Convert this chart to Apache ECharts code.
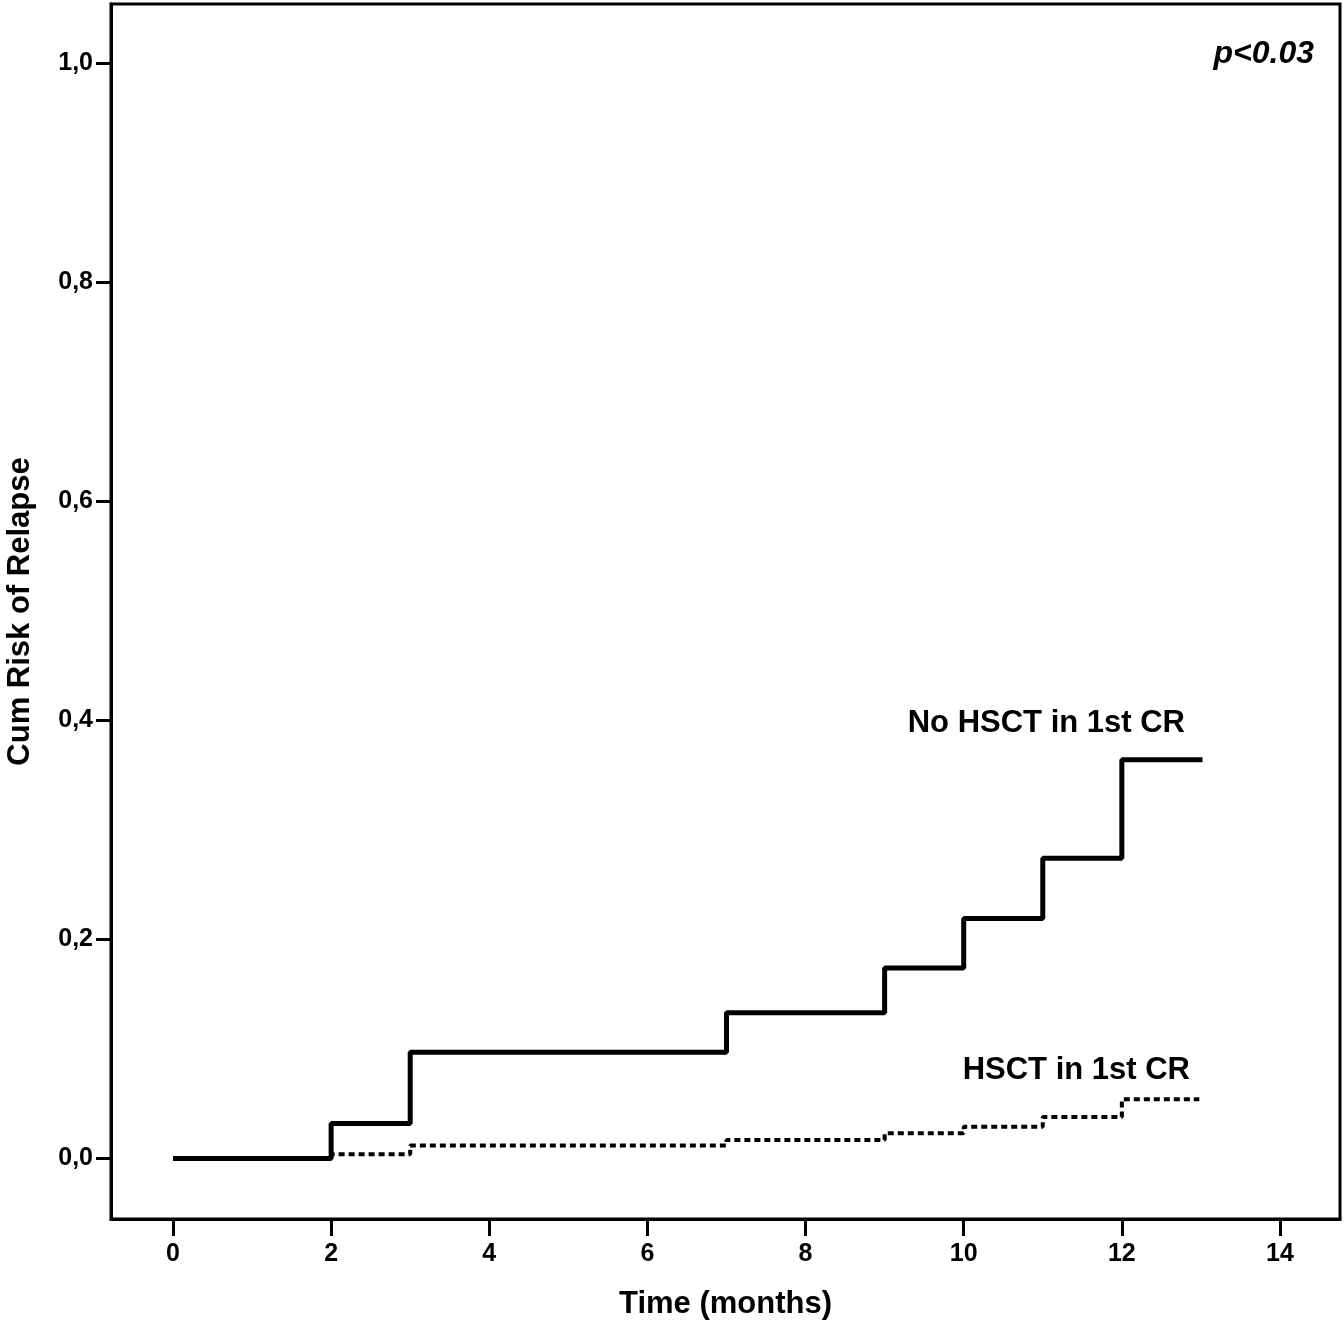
<!DOCTYPE html>
<html>
<head>
<meta charset="utf-8">
<script src="https://cdn.jsdelivr.net/npm/echarts@6/dist/echarts.min.js"></script>
<style>
html,body{margin:0;padding:0;background:#fff;}
#chart{width:1344px;height:1325px;}
</style>
</head>
<body>
<div id="chart"></div>
<script>
// Data
const timesNoHSCT = [0, 2, 3, 7, 9, 10, 11, 12, 13.02];
const riskNoHSCT  = [0, 0.032, 0.097, 0.133, 0.174, 0.219, 0.274, 0.364, 0.364];
const timesHSCT   = [0, 2, 3, 7, 9, 10, 11, 12, 12.98];
const riskHSCT    = [0, 0.004, 0.012, 0.017, 0.023, 0.029, 0.038, 0.054, 0.054];
const xTicks = [0, 2, 4, 6, 8, 10, 12, 14];
const yTicks = [0, 0.2, 0.4, 0.6, 0.8, 1.0];
const seriesNames = ['No HSCT in 1st CR', 'HSCT in 1st CR'];
const pText = 'p<0.03';

const FONT = '"Liberation Sans", Arial, sans-serif';
const pairs = (xs, ys) => xs.map((x, i) => [x, ys[i]]);
const tickRich = {t: {fontFamily: FONT, fontWeight: 'bold', fontSize: 25, color: '#000'}};

const chart = echarts.init(document.getElementById('chart'));
chart.setOption({
  animation: false,
  backgroundColor: '#fff',
  textStyle: {fontFamily: FONT, fontSize: 24, fontWeight: 'bold', color: '#000'},
  grid: {
    left: 111, top: 4, right: 4, bottom: 106,
    containLabel: false,
    outerBoundsMode: 'none',
    show: true, borderColor: '#000', borderWidth: 3, backgroundColor: 'transparent'
  },
  xAxis: {
    type: 'value',
    min: -0.784, max: 14.759,
    name: 'Time (months)',
    nameLocation: 'middle',
    nameGap: 70,
    nameTextStyle: {fontFamily: FONT, fontWeight: 'bold', fontSize: 31, color: '#000'},
    axisLine: {show: true, onZero: false, lineStyle: {color: '#000', width: 3}},
    axisTick: {show: true, inside: false, length: 17, lineStyle: {color: '#000', width: 3}, customValues: xTicks},
    axisLabel: {
      show: true, margin: 23, customValues: xTicks,
      fontFamily: FONT, fontWeight: 'bold', fontSize: 25, color: '#000',
      rich: tickRich,
      formatter: v => '{t|' + String(v) + '}'
    },
    splitLine: {show: false}
  },
  yAxis: {
    type: 'value',
    min: -0.0552, max: 1.0539,
    name: 'Cum Risk of Relapse',
    nameLocation: 'middle',
    nameGap: 75,
    nameRotate: 90,
    nameTextStyle: {fontFamily: FONT, fontWeight: 'bold', fontSize: 31, color: '#000'},
    axisLine: {show: true, onZero: false, lineStyle: {color: '#000', width: 3}},
    axisTick: {show: true, inside: false, length: 15, lineStyle: {color: '#000', width: 3}, customValues: yTicks},
    axisLabel: {
      show: true, margin: 18, customValues: yTicks,
      fontFamily: FONT, fontWeight: 'bold', fontSize: 25, color: '#000',
      rich: tickRich,
      formatter: v => '{t|' + v.toFixed(1).replace('.', ',') + '}'
    },
    splitLine: {show: false}
  },
  series: [
    {
      name: seriesNames[1],
      type: 'line',
      step: 'end',
      data: pairs(timesHSCT, riskHSCT),
      symbol: 'none',
      lineStyle: {color: '#000', width: 4, type: [6, 4], cap: 'butt'},
      z: 2
    },
    {
      name: seriesNames[0],
      type: 'line',
      step: 'end',
      data: pairs(timesNoHSCT, riskNoHSCT),
      symbol: 'none',
      lineStyle: {color: '#000', width: 5, cap: 'butt'},
      z: 3
    }
  ],
  graphic: [
    {type: 'text', right: 1344 - 1185, top: 708,
     style: {text: seriesNames[0], font: 'bold 31px ' + FONT, fill: '#000'}},
    {type: 'text', right: 1344 - 1190, top: 1055,
     style: {text: seriesNames[1], font: 'bold 31px ' + FONT, fill: '#000'}},
    {type: 'text', right: 1344 - 1314, top: 38,
     style: {text: pText, font: 'italic bold 32px ' + FONT, fill: '#000'}}
  ]
});
</script>
</body>
</html>
